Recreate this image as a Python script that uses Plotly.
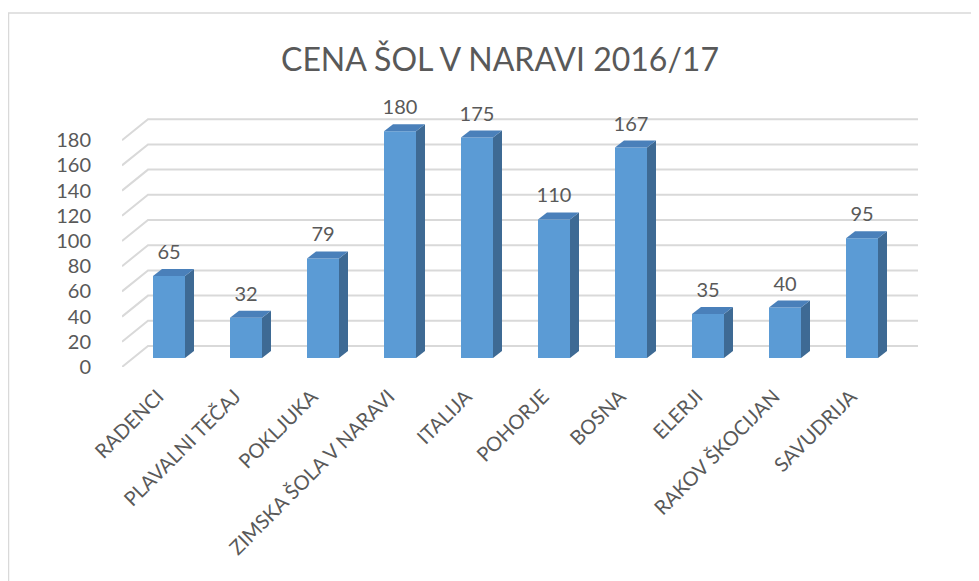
import plotly.graph_objects as go

categories = ["RADENCI", "PLAVALNI TEČAJ", "POKLJUKA", "ZIMSKA ŠOLA V NARAVI", "ITALIJA",
              "POHORJE", "BOSNA", "ELERJI", "RAKOV ŠKOCIJAN", "SAVUDRIJA"]
values = [65, 32, 79, 180, 175, 110, 167, 35, 40, 95]
y_ticks = [0, 20, 40, 60, 80, 100, 120, 140, 160, 180]
title_text = "CENA ŠOL V NARAVI 2016/17"

OFF = 8                      # page body margin of the html
W, H = 979 - OFF, 581 - OFF
L, R, T, B = 122 - OFF, 61, 100 - OFF, 214
px_x = 77.0      # pixels per category unit
px_y = 1.26      # pixels per value unit
x0 = -(169 - 122) / px_x
x1 = x0 + (W - L - R) / px_x
y1 = (H - T - B) / px_y

depth_dx = 26 / px_x
depth_dy = 21 / px_y
bar_w = 32 / px_x
bar_base = 9 / px_y
bar_shift = 11 / px_x       # bars sit part-way back in depth; floor front edge is left of them
side_dx = 9 / px_x
side_dy = 7 / px_y
label_gap = 5 / px_y

FONT = "Lato, 'Open Sans', sans-serif"
TXT = "#595959"
idx = list(range(len(categories)))

fig = go.Figure()

# gridlines (back wall + left diagonal), drawn beneath the bars
grid_shapes = []
for v in y_ticks:
    grid_shapes.append(dict(type="path", xref="x", yref="y", layer="below",
                            path=f"M {x0},{v} L {x0 + depth_dx},{v + depth_dy} L {x1},{v + depth_dy}",
                            line=dict(color="#D9D9D9", width=2)))

# front faces
fig.add_trace(go.Bar(x=idx, y=values, base=[bar_base] * len(values), width=bar_w,
                     marker=dict(color="#5B9BD5", line=dict(width=0)), showlegend=False))

# side and top faces
for i, v in zip(idx, values):
    xr = i + bar_w / 2
    xl = i - bar_w / 2
    top = bar_base + v
    fig.add_trace(go.Scatter(
        x=[xr, xr + side_dx, xr + side_dx, xr, xr],
        y=[bar_base, bar_base + side_dy, top + side_dy, top, bar_base],
        mode="lines", fill="toself", fillcolor="#3E6A94", line=dict(width=0, color="#3E6A94"),
        hoverinfo="skip", showlegend=False))
    fig.add_trace(go.Scatter(
        x=[xl, xr, xr + side_dx, xl + side_dx, xl],
        y=[top, top, top + side_dy, top + side_dy, top],
        mode="lines", fill="toself", fillcolor="#4A80BA", line=dict(width=0, color="#4A80BA"),
        hoverinfo="skip", showlegend=False))

# data labels
fig.add_trace(go.Scatter(x=idx, y=[bar_base + v + side_dy + label_gap for v in values],
                         mode="text", text=[str(v) for v in values], textposition="top center",
                         textfont=dict(family=FONT, size=20, color=TXT),
                         hoverinfo="skip", showlegend=False))

border = dict(type="rect", xref="paper", yref="paper",
              x0=(0.5 - L) / (W - L - R), x1=(W + 20 - L) / (W - L - R),
              y0=-(B + 20) / (H - T - B), y1=(H - 5 - B) / (H - T - B),
              line=dict(color="#D9D9D9", width=1.5), fillcolor="rgba(0,0,0,0)", layer="below")

fig.update_layout(
    width=W, height=H,
    margin=dict(l=L, r=R, t=T, b=B, autoexpand=False),
    paper_bgcolor="white", plot_bgcolor="white",
    title=dict(text=title_text, x=(500 - OFF) / W, xanchor="center",
               y=1 - (60 - OFF) / H, yanchor="middle",
               font=dict(family=FONT, size=32, color=TXT)),
    xaxis=dict(range=[x0, x1], tickvals=[i - bar_shift for i in idx], ticktext=categories,
               tickangle=-45, showgrid=False, zeroline=False, showline=False, ticks="",
               automargin=False,
               tickfont=dict(family=FONT, size=20, color=TXT), ticklabelstandoff=13),
    yaxis=dict(range=[0, y1], tickvals=y_ticks, showgrid=False, zeroline=False, showline=False,
               ticks="", automargin=False,
               tickfont=dict(family=FONT, size=20, color=TXT), ticklabelstandoff=30),
    shapes=[border] + grid_shapes,
)

fig.write_html("out.html")
